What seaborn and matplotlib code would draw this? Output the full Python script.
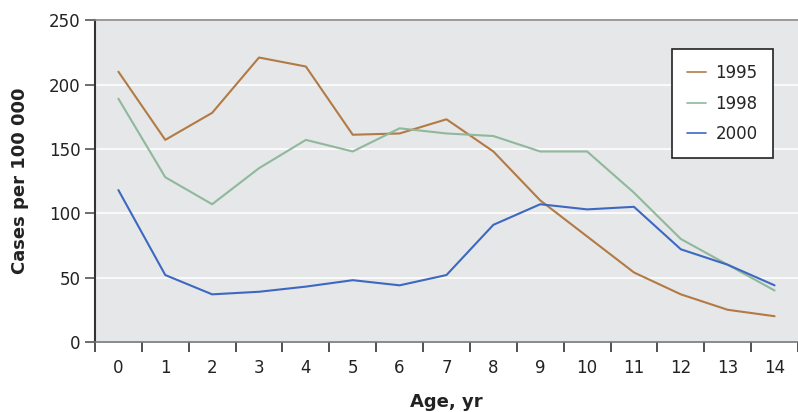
import numpy as np
import pandas as pd
import matplotlib
matplotlib.use("Agg")
import matplotlib.pyplot as plt
import seaborn as sns

# Data
ages = list(range(15))
cases_1995 = [210, 157, 178, 221, 214, 161, 162, 173, 148, 110, 82, 54, 37, 25, 20]
cases_1998 = [189, 128, 107, 135, 157, 148, 166, 162, 160, 148, 148, 116, 80, 60, 40]
cases_2000 = [118, 52, 37, 39, 43, 48, 44, 52, 91, 107, 103, 105, 72, 60, 44]
years = ["1995", "1998", "2000"]
colors = ["#b27a45", "#8fb89c", "#3d68c2"]

df = pd.DataFrame({"age": ages, "1995": cases_1995, "1998": cases_1998, "2000": cases_2000})
long_df = df.melt(id_vars="age", var_name="year", value_name="cases")

sns.set_style("white")
plt.rcParams['font.family'] = ['DejaVu Sans']

fig = plt.figure(figsize=(7.98, 4.12), dpi=100)
ax = fig.add_axes([0.119, 0.170, 0.881, 0.781])
ax.set_facecolor("#e6e7e8")

sns.lineplot(data=long_df, x="age", y="cases", hue="year", hue_order=years,
             palette=dict(zip(years, colors)), linewidth=1.5, ax=ax)

ax.set_xlim(-0.5, 14.5)
ax.set_ylim(0, 250)
ax.set_yticks([0, 50, 100, 150, 200, 250])
ax.yaxis.grid(True, color="white", linewidth=1.2)
ax.set_axisbelow(True)

# boundary ticks with marks, centre ticks with labels
ax.set_xticks(np.arange(-0.5, 14.6, 1))
ax.set_xticklabels([])
ax.set_xticks(ages, minor=True)
ax.set_xticklabels([str(a) for a in ages], minor=True)
ax.tick_params(axis="x", which="major", bottom=True, length=7, width=1.2, color="#333333", direction="out")
ax.tick_params(axis="x", which="minor", bottom=True, length=0, labelsize=12, pad=12, labelcolor="#222222")
ax.tick_params(axis="y", left=True, length=7, width=1.2, color="#555555", labelsize=12, labelcolor="#222222")

for side in ["left", "bottom", "top"]:
    ax.spines[side].set_visible(True)
ax.spines["right"].set_visible(False)
ax.spines["left"].set_color("#333333")
ax.spines["left"].set_linewidth(1.5)
ax.spines["bottom"].set_color("#777777")
ax.spines["bottom"].set_linewidth(1.2)
ax.spines["top"].set_color("#888888")
ax.spines["top"].set_linewidth(1.2)

ax.set_xlabel("Age, yr", fontsize=13, fontweight="bold", color="#222222", labelpad=12)
ax.set_ylabel("Cases per 100 000", fontsize=13, fontweight="bold", color="#222222", labelpad=14)

leg = ax.legend(loc="upper right", bbox_to_anchor=(0.964, 0.91), borderaxespad=0,
                frameon=True, fancybox=False, fontsize=12, handlelength=1.1,
                borderpad=0.9, labelspacing=0.75, handletextpad=0.6, title=None)
leg.get_frame().set_edgecolor("#222222")
leg.get_frame().set_linewidth(1.2)
leg.get_frame().set_facecolor("white")
leg.get_frame().set_alpha(1)
for line in leg.get_lines():
    line.set_linewidth(1.2)

fig.savefig("out.png", dpi=100)
